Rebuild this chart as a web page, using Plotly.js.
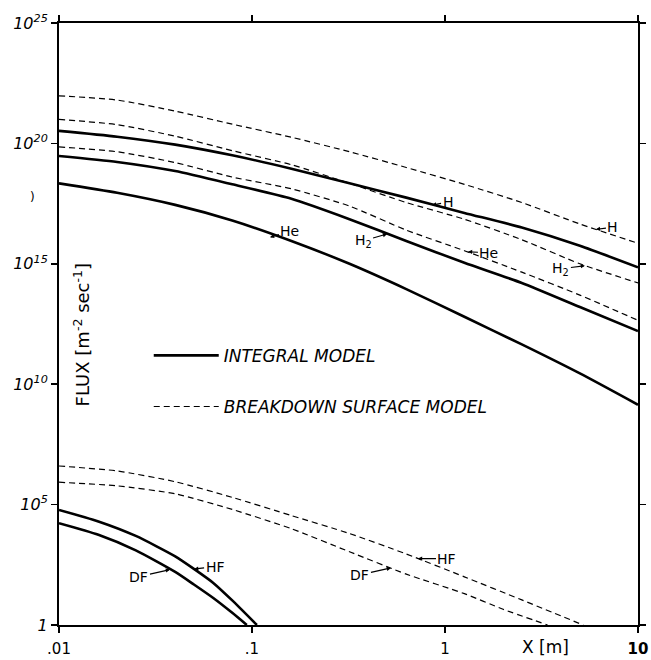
<!DOCTYPE html>
<html><head><meta charset="utf-8">
<script src="https://cdn.plot.ly/plotly-3.0.1.min.js"></script>
<style>html,body{margin:0;padding:0;background:#fff}#chart{width:651px;height:660px}</style>
</head><body><div id="chart"></div>
<script>
// x positions (m) for the upper family of curves
const xMain = [0.01, 0.02, 0.04, 0.079, 0.16, 0.32, 0.63, 1.26, 2.5, 5.0, 10];
// Integral model (solid)
const hIntegral  = [3.3e20, 1.9e20, 8.9e19, 3.2e19, 8.9e18, 2.2e18, 5.6e17, 1.3e17, 3.2e16, 5.6e15, 7.1e14];
const h2Integral = [3.0e19, 1.7e19, 7.1e18, 2.0e18, 5.0e17, 7.1e16, 8.9e15, 1.1e15, 1.6e14, 1.6e13, 1.6e12];
const heIntegral = [2.2e18, 8.9e17, 2.8e17, 6.3e16, 8.9e15, 1.0e15, 8.9e13, 6.3e12, 4.5e11, 2.8e10, 1.4e9];
// Breakdown surface model (dashed)
const hBreakdown  = [9.5e21, 6.3e21, 2.2e21, 6.3e20, 1.8e20, 4.5e19, 1.0e19, 2.0e18, 3.5e17, 4.5e16, 7.1e15];
const h2Breakdown = [1.0e21, 6.0e20, 2.0e20, 5.0e19, 1.3e19, 2.2e18, 3.5e17, 7.1e16, 1.0e16, 1.0e15, 1.6e14];
const heBreakdown = [7.2e19, 4.5e19, 1.6e19, 4.0e18, 1.3e18, 2.5e17, 2.5e16, 3.5e15, 4.5e14, 5.0e13, 4.5e12];
// HF / DF breakdown (dashed)
const xHFb = [0.01, 0.02, 0.04, 0.079, 0.16, 0.32, 0.63, 1.26, 2.5, 5.2];
const hfBreakdown = [4.0e6, 2.5e6, 8.9e5, 2.0e5, 3.5e4, 6300, 890, 100, 11, 1];
const xDFb = [0.01, 0.02, 0.04, 0.079, 0.16, 0.32, 0.63, 1.26, 2.0, 3.4];
const dfBreakdown = [8.5e5, 6.0e5, 2.8e5, 6.3e4, 1.0e4, 1100, 130, 20, 4.5, 1];
// HF / DF integral (solid)
const xHFi = [0.01, 0.016, 0.025, 0.04, 0.05, 0.063, 0.079, 0.106];
const hfIntegral = [6.0e4, 2.0e4, 5000, 710, 214, 56, 10.5, 1];
const xDFi = [0.01, 0.016, 0.025, 0.04, 0.05, 0.063, 0.079, 0.094];
const dfIntegral = [1.7e4, 5600, 1260, 160, 48, 13.2, 3.2, 1];

const xTickVals = [0.01, 0.1, 1, 10];
const xTickText = ['.01', '.1', '1', '<b>10</b>'];
const yTickVals = [1, 1e5, 1e10, 1e15, 1e20, 1e25];
const yTickText = ['1', '10<sup>5</sup>', '10<sup>10</sup>', '10<sup>15</sup>', '10<sup>20</sup>', '10<sup>25</sup>'];

const solid = {color: '#000', width: 2.6, shape: 'spline', smoothing: 0.6};
const dashed = {color: '#000', width: 1.2, dash: '6px,4px', shape: 'spline', smoothing: 0.6};

function tr(x, y, name, line, legend, group) {
  return {x: x, y: y, name: name, mode: 'lines', line: line, type: 'scatter',
          showlegend: !!legend, legendgroup: group, hoverinfo: 'x+y+name'};
}

const data = [
  tr(xMain, hIntegral, 'INTEGRAL MODEL', solid, true, 'a'),
  tr(xMain, h2Integral, 'H2 integral', solid, false, 'a'),
  tr(xMain, heIntegral, 'He integral', solid, false, 'a'),
  tr(xHFi, hfIntegral, 'HF integral', solid, false, 'a'),
  tr(xDFi, dfIntegral, 'DF integral', solid, false, 'a'),
  tr(xMain, hBreakdown, 'BREAKDOWN SURFACE MODEL', dashed, true, 'b'),
  tr(xMain, h2Breakdown, 'H2 breakdown', dashed, false, 'b'),
  tr(xMain, heBreakdown, 'He breakdown', dashed, false, 'b'),
  tr(xHFb, hfBreakdown, 'HF breakdown', dashed, false, 'b'),
  tr(xDFb, dfBreakdown, 'DF breakdown', dashed, false, 'b')
];

const lf = {family: 'DejaVu Sans, sans-serif', size: 14, color: '#000'};
function lab(text, lx, ly, ax, ay) {
  return {x: lx, y: ly, xref: 'x', yref: 'y', text: text, showarrow: true,
          arrowhead: 2, arrowsize: 0.7, arrowwidth: 1.2, arrowcolor: '#000',
          ax: ax, ay: ay, standoff: 0, font: lf};
}

const annotations = [
  lab('H', -0.067, 17.44, 16, -3),
  lab('H', 0.782, 16.43, 17, -2),
  lab('He', -0.907, 16.1, 20, -6),
  lab('H<sub>2</sub>', -0.30, 16.24, -24, 7),
  lab('He', 0.119, 15.5, 21, 1),
  lab('H<sub>2</sub>', 0.725, 14.92, -24, 3),
  lab('HF', -1.30, 2.33, 21, -2),
  lab('DF', -1.425, 2.3, -31, 7),
  lab('HF', -0.14, 2.76, 29, 0),
  lab('DF', -0.28, 2.37, -31, 7),
  {xref: 'paper', yref: 'paper', x: 0.04, y: 0.483, xanchor: 'center', yanchor: 'middle',
   text: 'FLUX [m<sup>-2</sup> sec<sup>-1</sup>]',
   textangle: -90, showarrow: false, font: {family: 'DejaVu Sans, sans-serif', size: 18, color: '#000'}},
  {xref: 'paper', yref: 'paper', x: 0.84, y: -0.037, xanchor: 'center', yanchor: 'middle',
   text: 'X [m]', showarrow: false,
   font: {family: 'DejaVu Sans, sans-serif', size: 17, color: '#000'}},
  {xref: 'paper', yref: 'paper', x: -0.045, y: 0.711, xanchor: 'center', yanchor: 'middle',
   text: ')', showarrow: false,
   font: {family: 'DejaVu Sans, sans-serif', size: 12, color: '#000'}}
];

const layout = {
  width: 651, height: 660,
  margin: {l: 59, r: 13, t: 23, b: 35},
  paper_bgcolor: '#fff', plot_bgcolor: '#fff',
  font: {family: 'DejaVu Sans, sans-serif', size: 14, color: '#000'},
  xaxis: {type: 'log', range: [-2, 1], tickvals: xTickVals, ticktext: xTickText,
          showline: true, linecolor: '#000', linewidth: 2, mirror: 'ticks',
          ticks: 'outside', ticklen: 6, tickwidth: 1.5, tickcolor: '#000', ticklabelstandoff: 3,
          showgrid: false, zeroline: false, tickfont: {size: 15}},
  yaxis: {type: 'log', range: [0, 25], tickvals: yTickVals, ticktext: yTickText,
          showline: true, linecolor: '#000', linewidth: 2, mirror: 'ticks',
          ticks: 'outside', ticklen: 6, tickwidth: 1.5, tickcolor: '#000',
          showgrid: false, zeroline: false, tickfont: {size: 16, style: 'italic'}},
  showlegend: true,
  legend: {x: 0.155, y: 0.477, xanchor: 'left', yanchor: 'top', bgcolor: 'rgba(0,0,0,0)',
           traceorder: 'grouped', tracegroupgap: 26, itemwidth: 65,
           font: {family: 'DejaVu Sans, sans-serif', size: 17, style: 'italic', color: '#000'}},
  annotations: annotations
};

Plotly.newPlot('chart', data, layout, {displayModeBar: false, staticPlot: true});
</script></body></html>
